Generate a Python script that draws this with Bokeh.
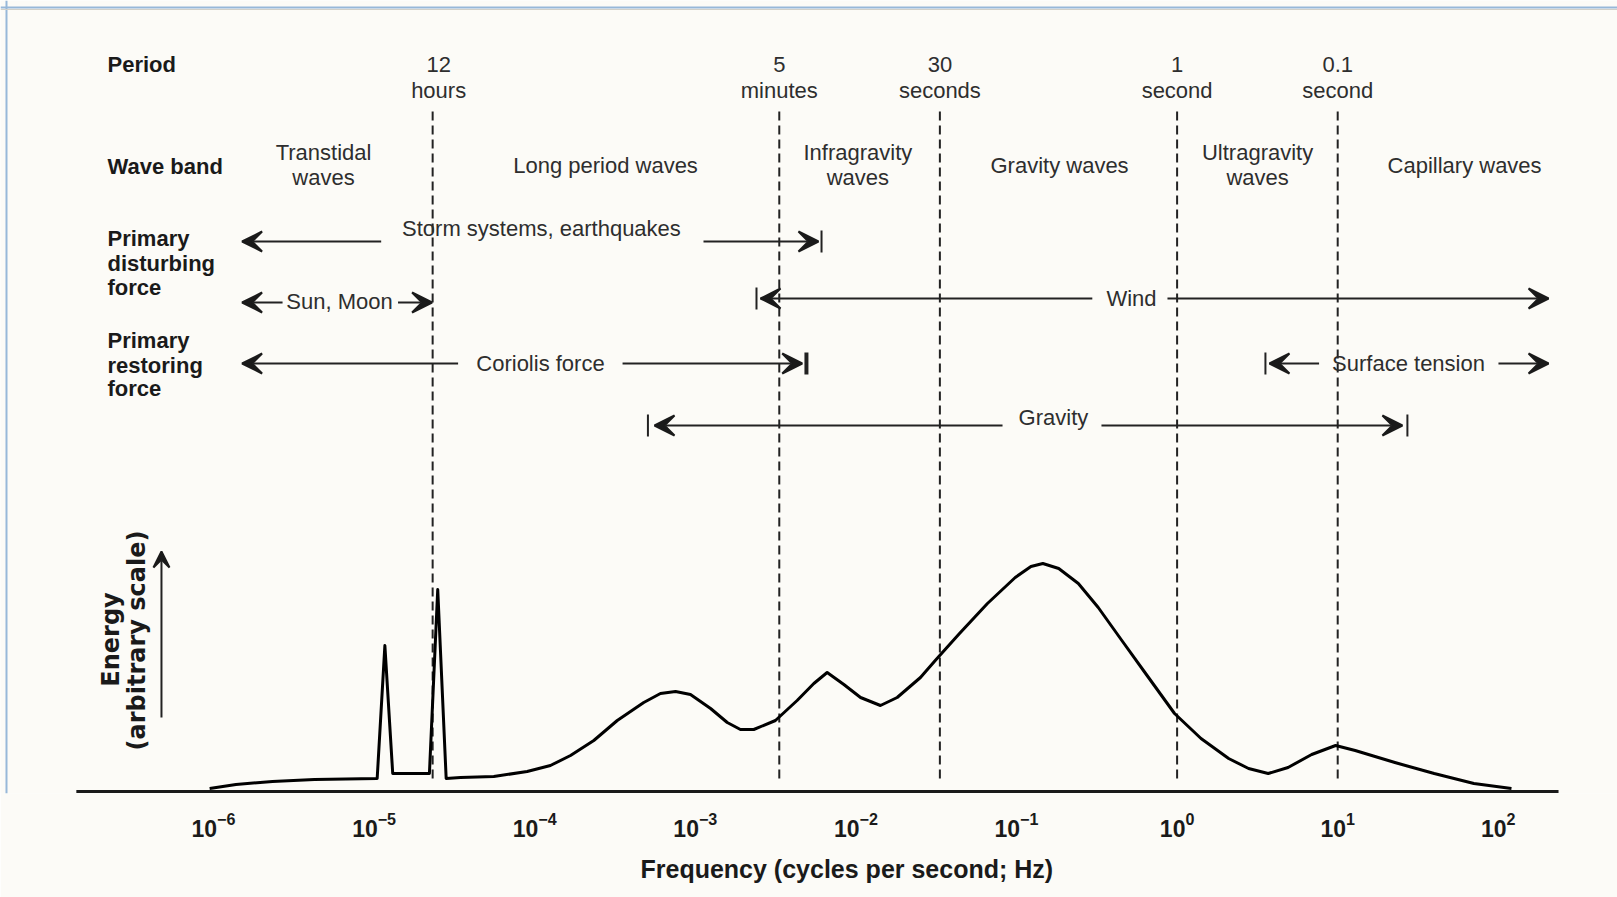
from bokeh.plotting import figure
from bokeh.models import (Range1d, Arrow, VeeHead, ColumnDataSource, Span,
                          FixedTicker, LogTickFormatter)
from bokeh.core.properties import value
from bokeh.embed import file_html
from bokeh.resources import INLINE

# ---------------- data ----------------
# energy spectrum of ocean surface waves (arbitrary energy scale)
curve_freq = [9.46e-7, 1.38e-6, 2.33e-6, 4.25e-6, 1.045e-5, 1.167e-5, 1.306e-5,
              2.21e-5, 2.49e-5, 2.81e-5, 3.45e-5, 5.56e-5, 8.97e-5, 1.253e-4,
              1.671e-4, 2.333e-4, 3.266e-4, 4.775e-4, 6.067e-4, 7.534e-4, 9.333e-4,
              1.245e-3, 1.581e-3, 1.910e-3, 2.312e-3, 3.155e-3, 4.305e-3, 5.470e-3,
              6.622e-3, 8.414e-3, 1.069e-2, 1.422e-2, 1.807e-2, 2.523e-2, 3.119e-2,
              4.416e-2, 6.592e-2, 9.817e-2, 0.1230, 0.1459, 0.1832, 0.2427, 0.3228,
              0.4529, 0.6368, 0.9638, 1.409, 2.094, 2.786, 3.690, 4.909, 6.887,
              9.705, 12.85, 22.70, 39.90, 70.47, 120.8]
curve_energy = [3, 7, 10, 12, 13, 146, 18, 18, 202, 13, 14, 15, 20, 26, 36, 51,
                71, 89, 98, 100, 97, 83, 69, 62, 62, 71, 91, 108, 119, 107, 94,
                86, 94, 114, 131, 158, 188, 214, 225, 228, 223, 208, 184, 151,
                118, 78, 53, 33, 23, 18, 24, 37, 46, 41, 29, 18, 8, 3]

# period boundaries (Hz) and their labels
period_freq = [1 / 43200, 1 / 300, 1 / 30, 1.0, 10.0]
period_top = ["12", "5", "30", "1", "0.1"]
period_bottom = ["hours", "minutes", "seconds", "second", "second"]

# wave bands
band_names = ["Transtidal", "Long period waves", "Infragravity", "Gravity waves",
              "Ultragravity", "Capillary waves"]
band_second = ["waves", "", "waves", "", "waves", ""]

# x axis ticks (decades, labelled as powers of ten)
tick_exps = [-6, -5, -4, -3, -2, -1, 0, 1, 2]

# ---------------- layout ----------------
F = lambda e: 10.0 ** e
FONT = value("Liberation Sans")
BG = "#fcfbf7"
INK = "#1a1a1a"
GREY = "#2e2e2e"

p = figure(width=1617, height=897, x_axis_type="log", y_axis_location=None,
           x_range=Range1d(F(-7.3263), F(2.7422)), y_range=Range1d(-2, 791),
           output_backend="svg", toolbar_location=None,
           min_border_left=0, min_border_right=0, min_border_top=0,
           min_border_bottom=104)
p.background_fill_color = BG
p.border_fill_color = BG
p.outline_line_color = None
p.grid.visible = False

# x axis (frequency)
ax = p.xaxis[0]
ax.ticker = FixedTicker(ticks=[F(e) for e in tick_exps], minor_ticks=[])
ax.formatter = LogTickFormatter()
ax.axis_line_color = None
ax.major_tick_line_color = None
ax.minor_tick_line_color = None
ax.major_label_standoff = 12
ax.major_label_text_font = "Liberation Sans"
ax.major_label_text_font_style = "bold"
ax.major_label_text_font_size = "23px"
ax.major_label_text_color = INK

# axis title, placed slightly right of centre as in the original
p.title.text = "Frequency (cycles per second; Hz)"
p.title_location = "below"
p.title.align = "left"
p.title.offset = 640
p.title.standoff = 26
p.title.text_font = "Liberation Sans"
p.title.text_font_style = "bold"
p.title.text_font_size = "25px"
p.title.text_color = INK

# frame border lines (blue)
p.add_layout(Span(location=F(-7.289), dimension="height", line_color="#97b8d9", line_width=2))
p.add_layout(Span(location=784, dimension="width", line_color="#97b8d9", line_width=2))
p.add_layout(Span(location=782, dimension="width", line_color="#d2d0c8", line_width=1))

# baseline
p.segment(x0=[F(-6.854)], y0=[0], x1=[F(2.375)], y1=[0], line_color=INK, line_width=3)

# period dashed lines
p.segment(x0=period_freq, y0=13, x1=period_freq, y1=684, line_color="#222222",
          line_width=2, line_dash="9 5")

# spectrum curve
p.line(curve_freq, curve_energy, line_color="#000000", line_width=3,
       line_join="round")

# period labels
lab_dx = [6, 0, 0, 0, 0]
p.text(x=period_freq, y=727, text=period_top, x_offset=lab_dx, text_font=FONT,
       text_font_size="22px", text_align="center", text_baseline="middle",
       text_color=GREY)
p.text(x=period_freq, y=701, text=period_bottom, x_offset=lab_dx, text_font=FONT,
       text_font_size="22px", text_align="center", text_baseline="middle",
       text_color=GREY)

# row headings
head_x = F(-6.66)
heads = [("Period", 727), ("Wave band", 625), ("Primary", 553), ("disturbing", 528),
         ("force", 504), ("Primary", 451), ("restoring", 426), ("force", 403)]
p.text(x=[head_x] * len(heads), y=[h[1] for h in heads], text=[h[0] for h in heads],
       text_font=FONT, text_font_size="22px", text_font_style="bold",
       text_align="left", text_baseline="middle", text_color=INK)

# wave band labels
band_x = [F(-5.315), F(-3.559), F(-1.988), F(-0.732), F(0.501), F(1.790)]
b1_y = [639 if s else 626 for s in band_second]
p.text(x=band_x, y=b1_y, text=band_names, text_font=FONT, text_font_size="22px",
       text_align="center", text_baseline="middle", text_color=GREY)
p.text(x=band_x, y=614, text=band_second, text_font=FONT, text_font_size="22px",
       text_align="center", text_baseline="middle", text_color=GREY)

# force labels
force_txt = ["Storm systems, earthquakes", "Sun, Moon", "Wind", "Coriolis force",
             "Surface tension", "Gravity"]
force_x = [F(-3.958), F(-5.215), F(-0.284), F(-3.964), F(1.441), F(-0.770)]
force_y = [563, 490, 493, 428, 428, 374]
p.text(x=force_x, y=force_y, text=force_txt, text_font=FONT, text_font_size="22px",
       text_align="center", text_baseline="middle", text_color=GREY)

# arrows
arr = ColumnDataSource(dict(
    x0=[F(-4.956), F(-2.949), F(-5.570), F(-4.851), F(-0.528), F(-0.060),
        F(-4.477), F(-3.453), F(0.884), F(2.001), F(-1.087), F(-0.471)],
    x1=[F(-5.822), F(-2.233), F(-5.822), F(-4.639), F(-2.594), F(2.313),
        F(-5.822), F(-2.334), F(0.575), F(2.313), F(-3.254), F(1.403)],
    y=[550, 550, 489, 489, 493, 493, 428, 428, 428, 428, 366, 366]))
p.add_layout(Arrow(source=arr, x_start="x0", y_start="y", x_end="x1", y_end="y",
                   line_color="#222222", line_width=2,
                   end=VeeHead(size=20, fill_color=INK, fill_alpha=1.0,
                               line_color=INK, line_width=2)))

# end bars
bar_x = [F(-2.214), F(-2.619), F(-2.308), F(0.550), F(-3.295), F(1.434)]
bar_y = [550, 493, 428, 428, 366, 366]
bar_w = [2, 2, 4, 2, 2, 2]
p.segment(x0=bar_x, y0=[v - 11 for v in bar_y], x1=bar_x, y1=[v + 11 for v in bar_y],
          line_color="#222222", line_width=bar_w)

# energy arrow and label
p.add_layout(Arrow(x_start=F(-6.324), y_start=74, x_end=F(-6.324), y_end=240,
                   line_color="#222222", line_width=2,
                   end=VeeHead(size=16, fill_color=INK, fill_alpha=1.0,
                               line_color=INK, line_width=2)))
p.text(x=[F(-6.641), F(-6.479)], y=[152, 151], text=["Energy", "(arbitrary scale)"],
       text_font=value("DejaVu Sans"), text_font_size="24px", text_font_style="bold",
       angle=1.5708, text_align="center", text_baseline="middle", text_color=INK)

open("out.html", "w").write(file_html(p, INLINE))
